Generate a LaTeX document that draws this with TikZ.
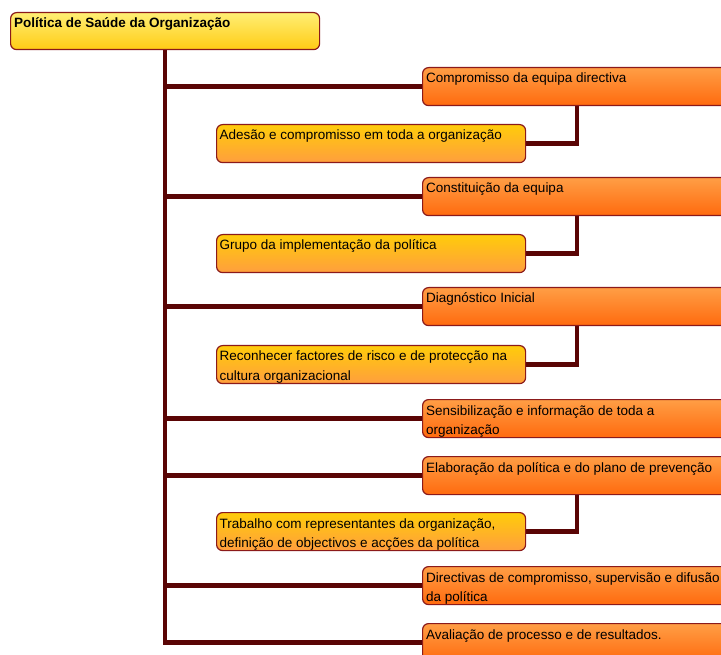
\documentclass[tikz,border=0pt]{standalone}
\usepackage{fontspec}
\setmainfont{Liberation Sans}
\usetikzlibrary{backgrounds}
\definecolor{bordercol}{HTML}{8B1A1A}
\definecolor{conncol}{HTML}{5A0505}
\definecolor{rtop}{HTML}{FF9E45}
\definecolor{rbot}{HTML}{FF6A0E}
\definecolor{ltop}{HTML}{FFCC0A}
\definecolor{lbot}{HTML}{FF9E3E}
\definecolor{ttop}{HTML}{FFEE74}
\definecolor{tbot}{HTML}{FFCC14}
\tikzset{
  boxbase/.style={rectangle, rounded corners=6pt, draw=bordercol, line width=1.2pt,
    anchor=north west, minimum width=309pt, minimum height=38pt, inner sep=0pt},
  rbox/.style={boxbase, top color=rtop, bottom color=rbot},
  lbox/.style={boxbase, top color=ltop, bottom color=lbot},
  tbox/.style={boxbase, top color=ttop, bottom color=tbot, minimum height=37pt},
  txt/.style={anchor=base west, inner sep=0pt, font=\fontsize{13.5}{19.5}\selectfont},
  conn/.style={draw=conncol, line width=4.5pt, line join=miter},
}
\begin{document}
\begin{tikzpicture}[x=1pt,y=-1pt]
\useasboundingbox (0,0) rectangle (721,655);
\clip (0,0) rectangle (721,655);
% boxes
\node[tbox] (title) at (10,12) {};
\node[rbox] (r1) at (422,67) {};
\node[rbox] (r2) at (422,177) {};
\node[rbox] (r3) at (422,287) {};
\node[rbox] (r4) at (422,399) {};
\node[rbox] (r5) at (422,456) {};
\node[rbox] (r6) at (422,566) {};
\node[rbox] (r7) at (422,623) {};
\node[lbox] (l1) at (216,124) {};
\node[lbox] (l2) at (216,234) {};
\node[lbox] (l3) at (216,345) {};
\node[lbox] (l4) at (216,512) {};
% texts
\node[txt] (tt) at (14,28) {\bfseries Política de Saúde da Organização};
\node[txt] (t1) at (426,83) {Compromisso da equipa directiva};
\node[txt] (t2) at (426,193) {Constituição da equipa};
\node[txt] (t3) at (426,303) {Diagnóstico Inicial};
\node[txt] (t4) at (426,415) {\parbox[t]{300pt}{Sensibilização e informação de toda a\\organização}};
\node[txt] (t5) at (426,472) {Elaboração da política e do plano de prevenção};
\node[txt] (t6) at (426,582) {\parbox[t]{310pt}{Directivas de compromisso, supervisão e difusão\\da política}};
\node[txt] (t7) at (426,639) {Avaliação de processo e de resultados.};
\node[txt] (s1) at (219.5,140) {Adesão e compromisso em toda a organização};
\node[txt] (s2) at (219.5,250) {Grupo da implementação da política};
\node[txt] (s3) at (219.5,361) {\parbox[t]{300pt}{Reconhecer factores de risco e de protecção na\\cultura organizacional}};
\node[txt] (s4) at (219.5,528) {\parbox[t]{300pt}{Trabalho com representantes da organização,\\definição de objectivos e acções da política}};
% connectors
\begin{scope}[on background layer]
\draw[conn] (title.south) |- (r7.west);
\foreach \r in {r1,r2,r3,r4,r5,r6}{
  \draw[conn] (title.south |- \r.west) -- (\r.west);
}
\draw[conn] (r1.south) |- (l1.east);
\draw[conn] (r2.south) |- (l2.east);
\draw[conn] (r3.south) |- (l3.east);
\draw[conn] (r5.south) |- (l4.east);
\end{scope}
\end{tikzpicture}
\end{document}
